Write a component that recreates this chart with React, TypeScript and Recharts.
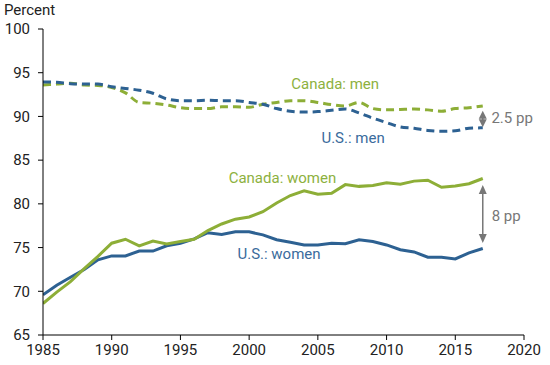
import { LineChart, Line, XAxis, YAxis, ReferenceLine, ReferenceDot } from "recharts";

const years = [
  1985, 1986, 1987, 1988, 1989, 1990, 1991, 1992, 1993, 1994, 1995, 1996, 1997, 1998, 1999, 2000, 2001,
  2002, 2003, 2004, 2005, 2006, 2007, 2008, 2009, 2010, 2011, 2012, 2013, 2014, 2015, 2016, 2017,
];

const canadaMen = [
  93.6, 93.7, 93.8, 93.6, 93.55, 93.3, 92.7, 91.6, 91.5, 91.3, 91.0, 90.9, 90.9, 91.1, 91.1, 91.05, 91.4,
  91.6, 91.8, 91.8, 91.6, 91.35, 91.2, 91.6, 90.9, 90.75, 90.8, 90.85, 90.75, 90.6, 90.9, 91.0, 91.2,
];

const usMen = [
  93.95, 93.9, 93.75, 93.7, 93.7, 93.4, 93.2, 93.0, 92.65, 92.0, 91.8, 91.8, 91.85, 91.8, 91.8, 91.6, 91.4,
  90.9, 90.6, 90.5, 90.55, 90.7, 90.85, 90.4, 89.8, 89.3, 88.8, 88.65, 88.4, 88.3, 88.35, 88.65, 88.7,
];

const canadaWomen = [
  68.6, 69.9, 71.1, 72.6, 74.0, 75.5, 75.95, 75.2, 75.75, 75.4, 75.7, 75.95, 76.95, 77.7, 78.25, 78.5, 79.1,
  80.1, 80.95, 81.5, 81.1, 81.2, 82.2, 82.0, 82.1, 82.4, 82.25, 82.6, 82.7, 81.9, 82.05, 82.3, 82.9,
];

const usWomen = [
  69.6, 70.7, 71.6, 72.5, 73.6, 74.05, 74.05, 74.6, 74.6, 75.2, 75.5, 76.0, 76.7, 76.5, 76.8, 76.8, 76.45,
  75.9, 75.6, 75.3, 75.3, 75.5, 75.45, 75.9, 75.7, 75.3, 74.75, 74.5, 73.9, 73.9, 73.7, 74.4, 74.9,
];

const xTicks = [1985, 1990, 1995, 2000, 2005, 2010, 2015, 2020];
const yTicks = [65, 70, 75, 80, 85, 90, 95, 100];

const seriesLabels = [
  { text: "Canada: men", x: 2003.07, y: 93.14, color: "#8DB13E" },
  { text: "U.S.: men", x: 2005.26, y: 87.0, color: "#3A6B9C" },
  { text: "Canada: women", x: 1998.51, y: 82.44, color: "#8DB13E" },
  { text: "U.S.: women", x: 1999.15, y: 73.72, color: "#3A6B9C" },
  { text: "2.5 pp", x: 2017.63, y: 89.26, color: "#777777" },
  { text: "8 pp", x: 2017.65, y: 78.06, color: "#777777" },
];

const gaps = [
  { year: 2017, top: 90.66, bottom: 88.77, head: 8 },
  { year: 2017, top: 82.17, bottom: 75.51, head: 9 },
];

const GREEN = "#8DAE37";
const BLUE = "#2D6192";
const FONT = "Roboto, sans-serif";

const rows = years.map((year, i) => ({
  year,
  canadaMen: canadaMen[i],
  usMen: usMen[i],
  canadaWomen: canadaWomen[i],
  usWomen: usWomen[i],
}));

const makeArrow = (head: number) => (props: any) => {
  const { x1, y1, x2, y2 } = props;
  const top = Math.min(y1, y2);
  const bottom = Math.max(y1, y2);
  const w = 4;
  return (
    <g>
      <line x1={x1} x2={x2} y1={top + head - 1} y2={bottom - head + 1} stroke="#777" strokeWidth={1.5} />
      <polygon points={`${x1},${top} ${x1 - w},${top + head} ${x1 + w},${top + head}`} fill="#777" />
      <polygon points={`${x1},${bottom} ${x1 - w},${bottom - head} ${x1 + w},${bottom - head}`} fill="#777" />
    </g>
  );
};

const TextAt = (text: string, color: string) => (props: any) => {
  const { viewBox } = props;
  return (
    <text x={viewBox.x} y={viewBox.y} fill={color} fontSize={15} fontFamily={FONT} textAnchor="start">
      {text}
    </text>
  );
};

export default function App() {
  return (
    <div style={{ position: "absolute", left: 0, top: 0, width: 550, height: 365, background: "#fff" }}>
      <div
        style={{
          position: "absolute",
          left: 4,
          top: 1,
          fontFamily: FONT,
          fontSize: 15,
          color: "#222",
        }}
      >
        Percent
      </div>
      <LineChart width={550} height={365} data={rows} margin={{ top: 29, right: 26, bottom: 0, left: 0 }}>
        <XAxis
          dataKey="year"
          type="number"
          domain={[1985, 2020]}
          ticks={xTicks}
          height={30}
          tickSize={5}
          tickMargin={4}
          stroke="#000"
          tick={{ fill: "#222", fontSize: 15, fontFamily: FONT }}
          allowDataOverflow
        />
        <YAxis
          type="number"
          domain={[65, 100]}
          ticks={yTicks}
          width={43}
          tickSize={5}
          tickMargin={8}
          stroke="#000"
          tick={{ fill: "#222", fontSize: 15, fontFamily: FONT }}
        />
        <Line
          dataKey="canadaMen"
          type="monotone"
          stroke={GREEN}
          strokeWidth={3}
          strokeDasharray="8 5"
          dot={false}
          isAnimationActive={false}
        />
        <Line
          dataKey="usMen"
          type="monotone"
          stroke={BLUE}
          strokeWidth={3}
          strokeDasharray="8 5"
          dot={false}
          isAnimationActive={false}
        />
        <Line
          dataKey="usWomen"
          type="linear"
          stroke={BLUE}
          strokeWidth={3}
          dot={false}
          isAnimationActive={false}
        />
        <Line
          dataKey="canadaWomen"
          type="linear"
          stroke={GREEN}
          strokeWidth={3}
          dot={false}
          isAnimationActive={false}
        />
        {gaps.map((g, i) => (
          <ReferenceLine
            key={`gap-${i}`}
            segment={[
              { x: g.year, y: g.top },
              { x: g.year, y: g.bottom },
            ]}
            shape={makeArrow(g.head)}
          />
        ))}
        {seriesLabels.map((l) => (
          <ReferenceDot
            key={l.text}
            x={l.x}
            y={l.y}
            r={0}
            stroke="none"
            fill="none"
            label={TextAt(l.text, l.color)}
          />
        ))}
      </LineChart>
    </div>
  );
}
